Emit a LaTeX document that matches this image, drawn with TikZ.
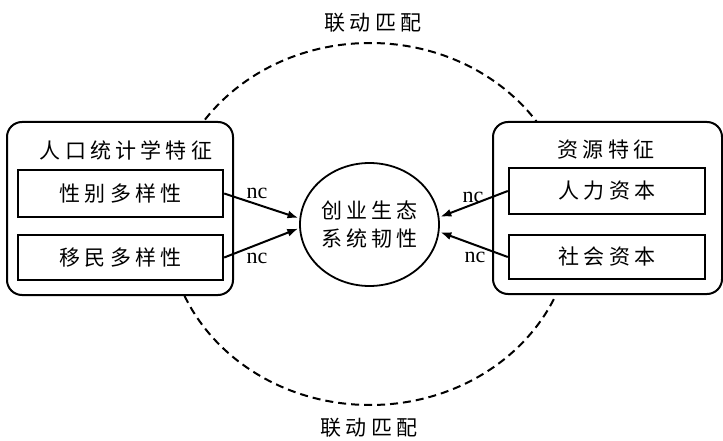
\documentclass[tikz,border=0pt]{standalone}
\usepackage{fontspec}
\setmainfont{Liberation Serif}
\newfontfamily\cjk[LetterSpace=20]{Noto Sans CJK SC}
\usetikzlibrary{shapes.geometric,arrows.meta}
\tikzset{
  outer/.style={draw, line width=2pt, rounded corners=15pt, fill=white, inner sep=0pt},
  inbox/.style={draw, line width=2.4pt, fill=white, inner sep=0pt, font=\cjk\fontsize{21}{25}\selectfont},
  title/.style={inner sep=0pt, font=\cjk\fontsize{21}{25}\selectfont},
  core/.style={draw, ellipse, line width=1.8pt, inner sep=0pt, align=center,
    minimum width=139pt, minimum height=123pt, font=\cjk\fontsize{21}{28}\selectfont},
  match/.style={line width=2pt, dash pattern=on 8pt off 5pt},
  arr/.style={line width=2pt, -{Latex[length=11pt,width=8pt]}, shorten >=1pt},
  lab/.style={inner sep=0pt, font=\fontsize{22}{25}\selectfont}
}
\begin{document}
\begin{tikzpicture}[x=1pt,y=-1pt]
    \useasboundingbox (0,0) rectangle (723,441);

    % 联动匹配
    \draw[match] (370,224) ellipse [x radius=202, y radius=181];
    \node[title] (linkt) at (373,23) {联动匹配};
    \node[title] (linkb) at (369,428) {联动匹配};

    % 人口统计学特征
    \node[outer, minimum width=226pt, minimum height=173pt] (demo) at (120,208.5) {};
    \node[title] (demot) at (126,150) {人口统计学特征};
    \node[inbox, minimum width=205pt, minimum height=47pt] (gender) at (120.5,193.5) {性别多样性};
    \node[inbox, minimum width=205pt, minimum height=45pt] (migr) at (120.5,257.5) {移民多样性};

    % 资源特征
    \node[outer, minimum width=229pt, minimum height=172pt] (res) at (607.5,208) {};
    \node[title] (rest) at (606,150) {资源特征};
    \node[inbox, minimum width=196pt, minimum height=46pt] (human) at (607,191) {人力资本};
    \node[inbox, minimum width=196pt, minimum height=44pt] (social) at (607,257) {社会资本};

    % 创业生态系统韧性
    \node[core] (eco) at (369.5,224.5) {创业生态\\系统韧性};

    \draw[arr] (gender.east) -- (eco.175);
    \draw[arr] (migr.east) -- (eco.183);
    \draw[arr] (human.west) -- (eco.6);
    \draw[arr] (social.west) -- (eco.354);

    \node[lab] (nc1) at (257,193) {nc};
    \node[lab] (nc2) at (257,258) {nc};
    \node[lab] (nc3) at (473,197) {nc};
    \node[lab] (nc4) at (475,257) {nc};
\end{tikzpicture}
\end{document}
